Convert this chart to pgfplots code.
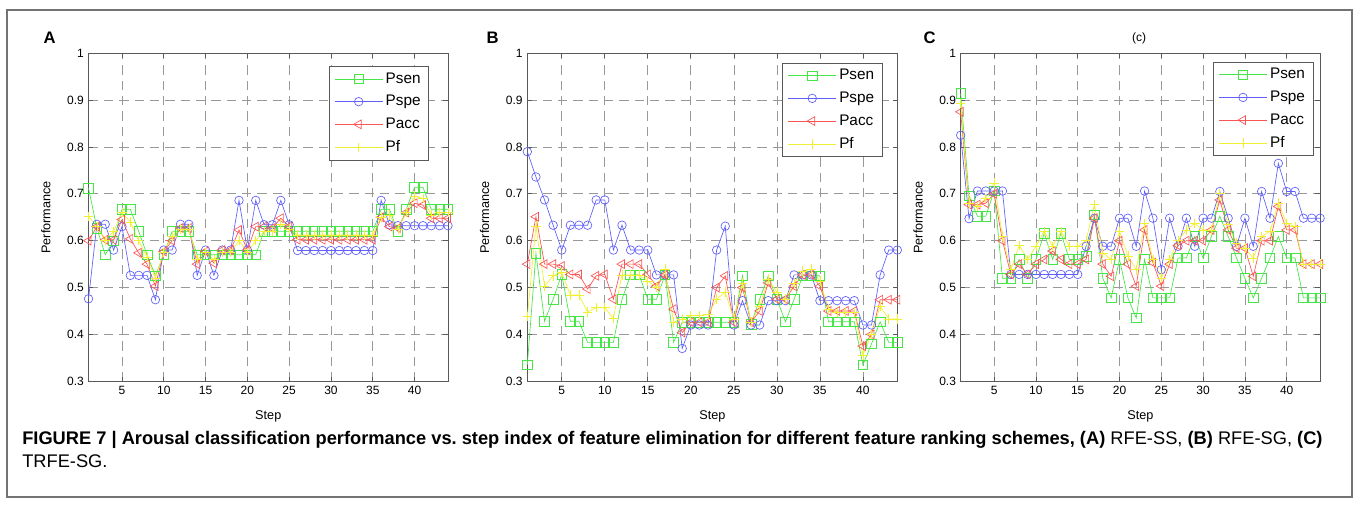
\documentclass[border=0pt]{standalone}
\usepackage{fontspec}
\setmainfont{Liberation Sans}
\usepackage{pgfplots}
\usepackage{pgfplotstable}
\pgfplotsset{compat=1.18}

\definecolor{csen}{RGB}{70,230,70}
\definecolor{cspe}{RGB}{95,95,250}
\definecolor{cacc}{RGB}{250,85,85}
\definecolor{cpf}{RGB}{240,240,50}

% step, Psen, Pspe, Pacc, Pf
\pgfplotstableread{
s sen spe acc f
1 0.712 0.476 0.600 0.652
2 0.627 0.635 0.630 0.630
3 0.570 0.635 0.602 0.600
4 0.600 0.580 0.602 0.620
5 0.667 0.630 0.645 0.660
6 0.667 0.526 0.604 0.640
7 0.620 0.526 0.574 0.600
8 0.570 0.526 0.550 0.565
9 0.525 0.474 0.503 0.520
10 0.570 0.580 0.577 0.575
11 0.620 0.580 0.600 0.610
12 0.620 0.635 0.627 0.625
13 0.620 0.635 0.627 0.625
14 0.570 0.526 0.550 0.560
15 0.570 0.580 0.577 0.575
16 0.570 0.526 0.552 0.560
17 0.570 0.580 0.580 0.575
18 0.570 0.580 0.580 0.575
19 0.570 0.686 0.623 0.600
20 0.570 0.580 0.580 0.575
21 0.570 0.686 0.630 0.600
22 0.620 0.634 0.630 0.620
23 0.620 0.634 0.627 0.620
24 0.620 0.686 0.648 0.635
25 0.620 0.634 0.630 0.625
26 0.620 0.579 0.602 0.612
27 0.620 0.579 0.602 0.612
28 0.620 0.579 0.602 0.612
29 0.620 0.579 0.602 0.612
30 0.620 0.579 0.602 0.612
31 0.620 0.579 0.602 0.612
32 0.620 0.579 0.602 0.612
33 0.620 0.579 0.602 0.612
34 0.620 0.579 0.602 0.612
35 0.620 0.579 0.602 0.612
36 0.667 0.686 0.650 0.650
37 0.667 0.634 0.630 0.655
38 0.620 0.632 0.627 0.625
39 0.667 0.632 0.660 0.660
40 0.714 0.632 0.680 0.695
41 0.714 0.632 0.676 0.690
42 0.667 0.632 0.648 0.655
43 0.667 0.632 0.648 0.660
44 0.667 0.632 0.648 0.660
}\tabA

\pgfplotstableread{
s sen spe acc f
1 0.335 0.790 0.550 0.438
2 0.573 0.736 0.651 0.631
3 0.428 0.687 0.550 0.503
4 0.475 0.633 0.550 0.525
5 0.528 0.580 0.546 0.532
6 0.428 0.633 0.528 0.484
7 0.428 0.633 0.528 0.484
8 0.383 0.633 0.497 0.448
9 0.383 0.687 0.525 0.457
10 0.383 0.687 0.528 0.457
11 0.383 0.580 0.475 0.434
12 0.475 0.633 0.550 0.527
13 0.527 0.580 0.550 0.527
14 0.527 0.580 0.550 0.527
15 0.475 0.580 0.528 0.514
16 0.475 0.527 0.503 0.500
17 0.527 0.527 0.527 0.539
18 0.383 0.527 0.454 0.426
19 0.426 0.370 0.404 0.433
20 0.426 0.420 0.426 0.440
21 0.426 0.420 0.426 0.440
22 0.426 0.420 0.426 0.442
23 0.426 0.580 0.500 0.475
24 0.426 0.631 0.525 0.490
25 0.426 0.420 0.426 0.433
26 0.525 0.472 0.500 0.510
27 0.422 0.420 0.426 0.426
28 0.475 0.420 0.450 0.460
29 0.525 0.472 0.510 0.518
30 0.475 0.472 0.475 0.490
31 0.427 0.472 0.475 0.475
32 0.475 0.527 0.503 0.510
33 0.525 0.527 0.527 0.535
34 0.525 0.527 0.527 0.539
35 0.525 0.472 0.503 0.514
36 0.427 0.472 0.450 0.454
37 0.427 0.472 0.450 0.447
38 0.427 0.472 0.450 0.447
39 0.427 0.472 0.450 0.447
40 0.335 0.420 0.375 0.356
41 0.380 0.420 0.400 0.400
42 0.427 0.527 0.474 0.460
43 0.383 0.580 0.474 0.433
44 0.383 0.580 0.474 0.433
}\tabB

\pgfplotstableread{
s sen spe acc f
1 0.914 0.825 0.875 0.893
2 0.696 0.647 0.677 0.680
3 0.652 0.706 0.677 0.673
4 0.652 0.706 0.680 0.690
5 0.706 0.706 0.700 0.723
6 0.520 0.706 0.600 0.610
7 0.520 0.528 0.528 0.538
8 0.560 0.528 0.550 0.590
9 0.520 0.528 0.528 0.560
10 0.560 0.528 0.550 0.588
11 0.616 0.528 0.560 0.620
12 0.560 0.528 0.578 0.588
13 0.616 0.528 0.560 0.620
14 0.560 0.528 0.550 0.588
15 0.560 0.528 0.550 0.588
16 0.567 0.588 0.560 0.600
17 0.655 0.648 0.648 0.677
18 0.520 0.588 0.550 0.574
19 0.478 0.588 0.524 0.560
20 0.560 0.648 0.600 0.620
21 0.478 0.648 0.550 0.567
22 0.435 0.588 0.503 0.538
23 0.560 0.706 0.623 0.637
24 0.478 0.648 0.553 0.560
25 0.478 0.538 0.503 0.520
26 0.478 0.648 0.550 0.560
27 0.563 0.588 0.590 0.600
28 0.563 0.648 0.600 0.623
29 0.609 0.588 0.600 0.637
30 0.563 0.648 0.600 0.623
31 0.609 0.648 0.623 0.623
32 0.652 0.705 0.687 0.700
33 0.609 0.648 0.623 0.634
34 0.563 0.588 0.584 0.595
35 0.520 0.648 0.584 0.584
36 0.478 0.588 0.524 0.563
37 0.520 0.705 0.600 0.609
38 0.563 0.648 0.600 0.620
39 0.609 0.765 0.673 0.680
40 0.563 0.705 0.623 0.637
41 0.563 0.705 0.623 0.630
42 0.478 0.648 0.550 0.550
43 0.478 0.648 0.550 0.550
44 0.478 0.648 0.550 0.550
}\tabC

\pgfplotsset{
  perf/.style={
    scale only axis, height=246pt,
    xmin=1, xmax=44, ymin=0.3, ymax=1,
    xtick={5,10,15,20,25,30,35,40},
    ytick={0.3,0.4,0.5,0.6,0.7,0.8,0.9,1},
    /pgf/number format/assume math mode=true,
    tick align=inside, tick pos=both,
    major tick length=3.5pt,
    every tick/.style={black!65, line width=0.5pt},
    axis line style={black!65, line width=0.6pt},
    grid=major,
    major grid style={black!40, line width=0.5pt, dash pattern=on 7pt off 4.5pt},
    tick label style={font=\fontsize{9}{10}\selectfont},
    label style={font=\fontsize{9.5}{11}\selectfont},
    xlabel={Step}, ylabel={Performance},
    xlabel style={at={([yshift=-26pt]axis description cs:0.5,0)}, anchor=center},
    ylabel style={at={([xshift=-32pt]axis description cs:0,0.5)}, anchor=center},
    clip=false,
    legend cell align=left,
    legend style={draw=black!65, fill=white, line width=0.5pt,
      font=\fontsize{11.5}{13}\selectfont, inner xsep=4pt, inner ysep=2.5pt,
      row sep=3.6pt, anchor=north east},
    legend image code/.code={%
      \draw[mark repeat=2, mark phase=2] plot coordinates {(0pt,0pt) (18pt,0pt) (36pt,0pt)};},
  },
  sen/.style={color=csen, mark=square, mark size=3.6pt, line width=0.5pt},
  spe/.style={color=cspe, mark=o, mark size=3.2pt, line width=0.5pt},
  acc/.style={color=cacc, mark=triangle, mark size=3.8pt, line width=0.5pt,
    every mark/.append style={rotate=90}},
  pf/.style={color=cpf, mark=+, mark size=3.6pt, line width=0.5pt},
}

\begin{document}
\begin{tikzpicture}
\useasboundingbox (0pt,0pt) rectangle (1020pt,381.75pt);
\draw[black!55, line width=0.8pt] (5.25pt,9pt) rectangle (1014pt,374.25pt);

% panel A
\begin{axis}[perf, width=269.6pt, at={(66.4pt,95.8pt)}, anchor=south west,
  legend style={at={(0.947,0.960)}}]
\addplot[sen] table[x=s, y=sen] {\tabA};
\addplot[spe] table[x=s, y=spe] {\tabA};
\addplot[acc] table[x=s, y=acc] {\tabA};
\addplot[pf] table[x=s, y=f] {\tabA};
\legend{Psen, Pspe, Pacc, Pf}
\end{axis}

% panel B
\begin{axis}[perf, width=277.5pt, at={(395.5pt,95.8pt)}, anchor=south west,
  legend style={at={(0.96,0.970)}}]
\addplot[sen] table[x=s, y=sen] {\tabB};
\addplot[spe] table[x=s, y=spe] {\tabB};
\addplot[acc] table[x=s, y=acc] {\tabB};
\addplot[pf] table[x=s, y=f] {\tabB};
\legend{Psen, Pspe, Pacc, Pf}
\end{axis}

% panel C
\begin{axis}[perf, width=269.6pt, at={(720.5pt,95.8pt)}, anchor=south west,
  legend style={at={(0.981,0.973)}}]
\addplot[sen] table[x=s, y=sen] {\tabC};
\addplot[spe] table[x=s, y=spe] {\tabC};
\addplot[acc] table[x=s, y=acc] {\tabC};
\addplot[pf] table[x=s, y=f] {\tabC};
\legend{Psen, Pspe, Pacc, Pf}
\end{axis}

\node[anchor=base west, font=\fontsize{12.5}{14}\selectfont\bfseries] at (29.25pt,348.75pt) {A};
\node[anchor=base west, font=\fontsize{12.5}{14}\selectfont\bfseries] at (361.5pt,348.75pt) {B};
\node[anchor=base west, font=\fontsize{12.5}{14}\selectfont\bfseries] at (689.25pt,348.75pt) {C};
\node[anchor=center, font=\fontsize{9}{10}\selectfont] at (854.25pt,353.25pt) {(c)};

\node[anchor=base west, font=\fontsize{13.7}{16}\selectfont, inner sep=0pt] at (16.5pt,48pt)
  {\textbf{FIGURE 7 | Arousal classification performance vs.\ step index of feature elimination for different feature ranking schemes, (A)} RFE-SS, \textbf{(B)} RFE-SG, \textbf{(C)}};
\node[anchor=base west, font=\fontsize{13.7}{16}\selectfont, inner sep=0pt] at (16.5pt,30.75pt) {TRFE-SG.};
\end{tikzpicture}
\end{document}
